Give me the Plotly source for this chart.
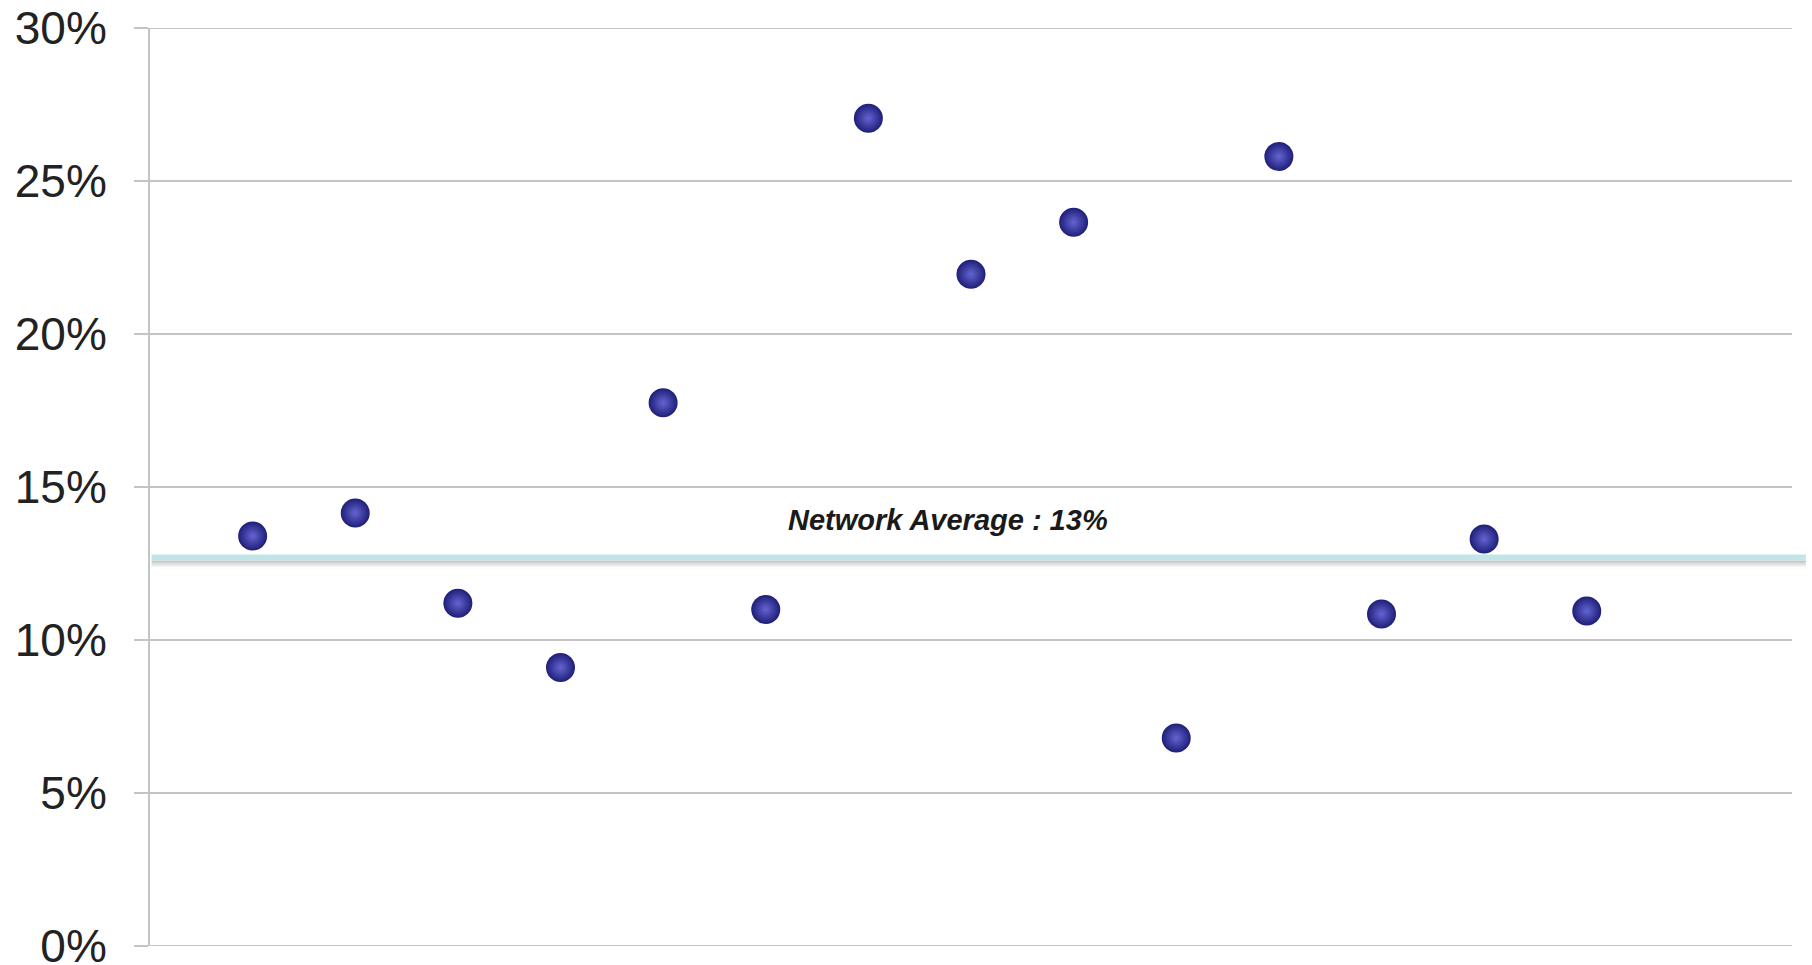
import plotly.graph_objects as go

# Share of volume per site, shown as percent
sites = list(range(1, 15))
share_pct = [13.4, 14.15, 11.2, 9.1, 17.75, 11.0, 27.05, 21.95, 23.65, 6.8, 25.8, 10.85, 13.3, 10.95]
network_avg = 12.7

y_ticks = [0, 5, 10, 15, 20, 25, 30]
y_tick_text = [f"{v}%" for v in y_ticks]

FONT = "Liberation Sans, Arial, sans-serif"
GRID = "#c4c4c4"
TICK_LEN = 14

fig = go.Figure()

fig.add_trace(go.Scatter(
    x=sites,
    y=share_pct,
    mode="markers",
    marker=dict(
        size=29,
        color="#1e1e78",
        gradient=dict(type="radial", color="#6464d2"),
        line=dict(width=0),
    ),
    hoverinfo="y",
    showlegend=False,
))

# gridlines at the two ends of the value range (plotly skips them at the edges)
for v in (y_ticks[0], y_ticks[-1]):
    fig.add_shape(
        type="line", xref="paper", yref="y",
        x0=-TICK_LEN / 1642, x1=1, y0=v, y1=v,
        line=dict(color=GRID, width=2), layer="below",
    )

# network average band with a soft drop shadow under it
for i, alpha in enumerate([0.35, 0.22, 0.12]):
    fig.add_shape(
        type="rect", xref="paper", yref="y",
        x0=0.001, x1=1.0085,
        ysizemode="pixel", yanchor=network_avg,
        y0=-3 - 2 * i, y1=-5 - 2 * i,
        fillcolor=f"rgba(90,90,90,{alpha})", line=dict(width=0),
        layer="above",
    )
fig.add_shape(
    type="rect", xref="paper", yref="y",
    x0=0.001, x1=1.0085,
    ysizemode="pixel", yanchor=network_avg,
    y0=-3, y1=3,
    fillcolor="#c2e5ea", line=dict(width=0),
    layer="above",
)

fig.add_annotation(
    x=0.486, xref="paper", y=network_avg, yref="y",
    yshift=37,
    text=f"<b><i>Network Average : {network_avg:.0f}%</i></b>",
    showarrow=False,
    font=dict(family=FONT, size=29, color="#1a1a1a"),
)

fig.update_xaxes(
    range=[0, 16],
    showgrid=False, zeroline=False, showline=False,
    showticklabels=False, ticks="",
)
fig.update_yaxes(
    range=[0, 30],
    tickvals=y_ticks, ticktext=y_tick_text,
    showgrid=True, gridcolor=GRID, gridwidth=2,
    zeroline=False,
    showline=True, linecolor=GRID, linewidth=2,
    ticks="outside", ticklen=TICK_LEN, tickcolor=GRID, tickwidth=2,
    ticklabelstandoff=18,
    ticklabeloverflow="allow",
    automargin=False,
    tickfont=dict(family=FONT, size=46, color="#222222"),
)

fig.update_layout(
    width=1812, height=965,
    margin=dict(l=150, r=20, t=28, b=19),
    paper_bgcolor="white", plot_bgcolor="white",
)

fig.write_html("out.html")
